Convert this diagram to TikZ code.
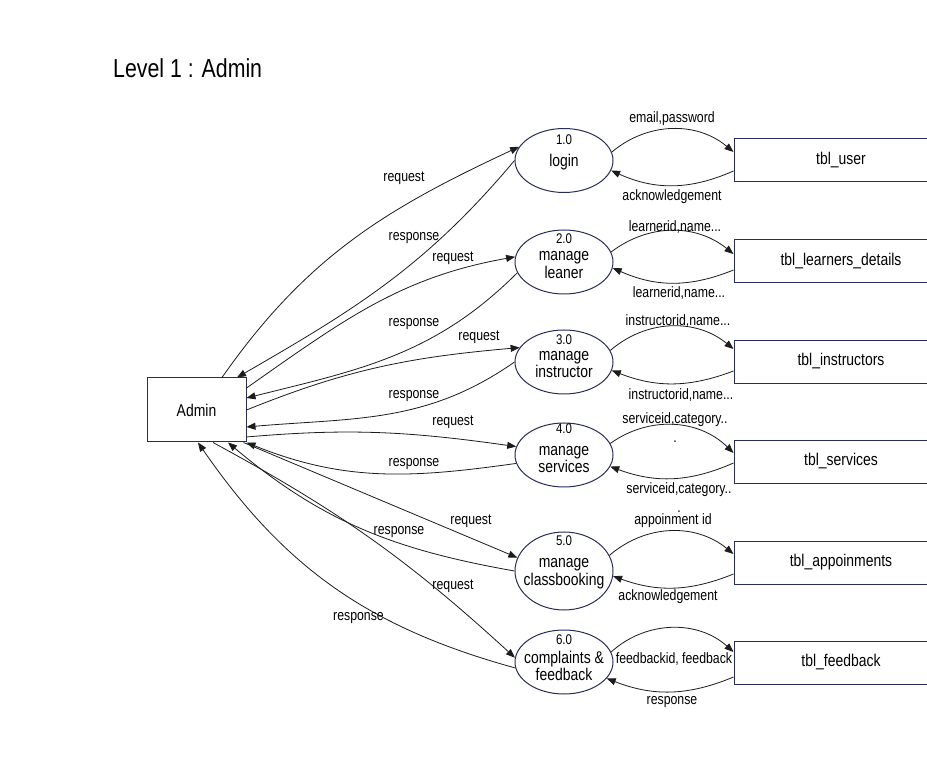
\documentclass[tikz,border=0pt]{standalone}
\usepackage{fontspec}
\setmainfont{Liberation Sans}[FakeStretch=0.82]
\usetikzlibrary{arrows.meta,shapes.geometric,calc}
\definecolor{navy}{RGB}{40,44,90}
\definecolor{ink}{RGB}{28,28,28}
\begin{document}
\begin{tikzpicture}[x=1pt,y=1pt,
  proc/.style={ellipse, draw=navy, line width=1pt, minimum width=98pt, minimum height=64pt, inner sep=0pt},
  store/.style={rectangle, draw=navy, line width=1pt, minimum width=214pt, minimum height=43pt, inner sep=0pt, text height=0.72em, text depth=0pt, font=\fontsize{17}{20}\selectfont},
  extent/.style={rectangle, draw=navy, line width=1pt, minimum width=99pt, minimum height=64pt, inner sep=0pt, font=\fontsize{17}{20}\selectfont},
  flow/.style={draw=ink, line width=0.8pt, -{Triangle[length=9pt,width=7pt]}},
  lbl/.style={font=\fontsize{15}{19}\selectfont, inner sep=0pt, align=center, yshift=-2pt},
  num/.style={font=\fontsize{14}{16}\selectfont, inner sep=0pt},
  pname/.style={font=\fontsize{17}{17.5}\selectfont, align=center, inner sep=0pt}]
\useasboundingbox (0,0) rectangle (927,756);
\clip (0,0) rectangle (927,756);
\fill[white] (0,0) rectangle (927,756);

\node[font=\fontsize{26}{30}\selectfont, anchor=base west, inner sep=0pt] (title) at (113,678.7) {Level 1 : Admin};

\node[extent] (admin) at (196.5,346) {Admin};

\node[proc] (p1) at (564,595.5) {};
\node[proc] (p2) at (564,494) {};
\node[proc] (p3) at (564,394) {};
\node[proc] (p4) at (564,301) {};
\node[proc, minimum height=78pt] (p5) at (564,185) {};
\node[proc] (p6) at (564,94) {};

\node[num] (n1) at ([yshift=20.5pt]p1.center) {1.0};
\node[pname] (l1) at ([yshift=-2pt]p1.center) {login};
\node[num] (n2) at ([yshift=23pt]p2.center) {2.0};
\node[pname] (l2) at ([yshift=-3pt]p2.center) {manage\\leaner};
\node[num] (n3) at ([yshift=22.7pt]p3.center) {3.0};
\node[pname] (l3) at ([yshift=-2.5pt]p3.center) {manage\\instructor};
\node[num] (n4) at ([yshift=26.3pt]p4.center) {4.0};
\node[pname] (l4) at ([yshift=-4.5pt]p4.center) {manage\\services};
\node[num] (n5) at ([yshift=30.7pt]p5.center) {5.0};
\node[pname] (l5) at ([yshift=-2.7pt]p5.center) {manage\\classbooking};
\node[num] (n6) at ([yshift=22.7pt]p6.center) {6.0};
\node[pname] (l6) at ([yshift=-3.7pt]p6.center) {complaints \&\\feedback};

\node[store] (t1) at (841,595.5) {tbl\_user};
\node[store] (t2) at (841,494.5) {tbl\_learners\_details};
\node[store] (t3) at (841,394) {tbl\_instructors};
\node[store] (t4) at (841,294) {tbl\_services};
\node[store] (t5) at (841,193) {tbl\_appoinments};
\node[store] (t6) at (841,93) {tbl\_feedback};

% process <-> store flows
\draw[flow] (p1.10) to[bend left=40] ([yshift=8.5pt]t1.west);
\draw[flow] ([yshift=-10.5pt]t1.west) to[bend left=24] (p1.-12);
\draw[flow] (p2.12) to[bend left=38] ([yshift=7.5pt]t2.west);
\draw[flow] ([yshift=-8.5pt]t2.west) to[bend left=23] (p2.-7);
\draw[flow] (p3.14) to[bend left=40] ([yshift=13pt]t3.west);
\draw[flow] ([yshift=-9pt]t3.west) to[bend left=21] (p3.-10.5);
\draw[flow] (p4.14) to[bend left=40] ([yshift=9pt]t4.west);
\draw[flow] ([yshift=-1pt]t4.west) to[bend left=22] (p4.-14);
\draw[flow] (p5.19) to[bend left=40] ([yshift=9pt]t5.west);
\draw[flow] ([yshift=-11pt]t5.west) to[bend left=21] (p5.-6);
\draw[flow] (p6.12) to[bend left=42] ([yshift=11pt]t6.west);
\draw[flow] ([yshift=-14pt]t6.west) to[bend left=22] (p6.-21);

\node[lbl] (a1) at (672,639) {email,password};
\node[lbl] (a2) at (672,561) {acknowledgement};
\node[lbl] (b1) at (675,531) {learnerid,name...};
\node[lbl] (b2) at (679,465) {learnerid,name...};
\node[lbl] (c1) at (678,437) {instructorid,name...};
\node[lbl] (c2) at (681,363) {instructorid,name...};
\node[lbl] (d1) at (675,330) {serviceid,category..\\.};
\node[lbl] (d2) at (679,260) {serviceid,category..\\.};
\node[lbl] (e1) at (673,237) {appoinment id};
\node[lbl] (e2) at (668,161) {acknowledgement};
\node[lbl] (f1) at (674,99) {feedbackid, feedback};
\node[lbl] (f2) at (672,56) {response};

% admin <-> process flows
\draw[flow] ([xshift=25.5pt]admin.north) to[out=55,in=205] (p1.163);
\draw[flow] (p1.180) to[out=230,in=30] ([xshift=40.5pt]admin.north);
\draw[flow] ([yshift=22pt]admin.east) to[out=35,in=190] (p2.174);
\draw[flow] (p2.193) to[out=225,in=14] ([yshift=12pt]admin.east);
\draw[flow] (admin.east) to[out=22,in=185] (p3.162);
\draw[flow] (p3.180) to[out=215,in=5] ([yshift=-17pt]admin.east);
\draw[flow] ([yshift=-27pt]admin.east) to[out=5,in=172] (p4.170);
\draw[flow] (p4.190) to[out=188,in=-22] (admin.south east);
\draw[flow] ([xshift=-3pt]admin.south east) -- (p5.164.5);
\draw[flow] (p5.180) to[out=170,in=-40] ([xshift=31.5pt]admin.south);
\draw[flow] ([xshift=16.5pt]admin.south) to[bend left=7] (p6.175);
\draw[flow] (p6.187) to[bend left=20] ([xshift=1.5pt]admin.south);

\node[lbl] (r1) at (404,579.3) {request};
\node[lbl] (s1) at (414,520) {response};
\node[lbl] (r2) at (453,499.3) {request};
\node[lbl] (s2) at (414,433.7) {response};
\node[lbl] (r3) at (479,421) {request};
\node[lbl] (s3) at (414,361.7) {response};
\node[lbl] (r4) at (453,335.3) {request};
\node[lbl] (s4) at (414,293.7) {response};
\node[lbl] (r5) at (471,237) {request};
\node[lbl] (s5) at (399,226) {response};
\node[lbl] (r6) at (453,171.7) {request};
\node[lbl] (s6) at (358.5,140) {response};
\end{tikzpicture}
\end{document}
